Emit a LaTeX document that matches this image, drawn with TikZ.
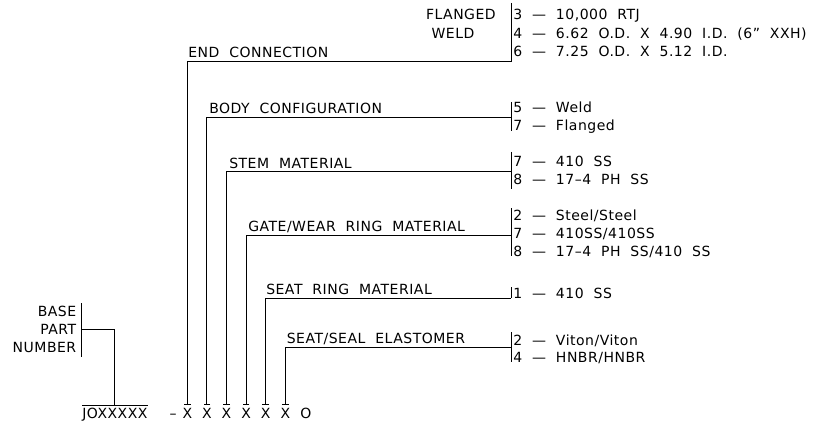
\documentclass[tikz,border=0pt]{standalone}
\usepackage{fontspec}
\newfontfamily\cadfont{DejaVu Sans}[WordSpace=2,LetterSpace=3.6]
\newcommand{\cad}{\cadfont\fontsize{10.5}{12}\selectfont}
\usepackage{tikz}
\usetikzlibrary{arrows.meta}

\begin{document}
\begin{tikzpicture}[x=0.75pt, y={(0pt,-0.75pt)},
  lead/.style={draw=black, line width=0.75pt},
  leader/.style={lead, arrows={Bar[width=5pt]-}},
  field/.style={font=\cad, anchor=base west, inner sep=0pt},
  choice/.style={font=\cad, anchor=base west, inner sep=0pt},
  digit/.style={font=\cad, anchor=base, inner xsep=0pt, inner ysep=2pt}]
\useasboundingbox (0,0) rectangle (822,428);

% part number string
\node[digit, anchor=base west] (pn) at (82,418.5) {JOXXXXX};
\node[digit] (dash) at (173,418.5) {–};
\foreach \i in {1,...,6}{
  \node[digit] (x\i) at ({187.3+19.6*(\i-1)},418.5) {X};
}
\node[digit] (last) at (306,418.5) {O};
\draw[lead] (pn.north west) -- (pn.north east);

% base part number
\node[field, anchor=base east] (base)   at (76.5,316)   {BASE};
\node[field, anchor=base east] (part)   at (76.5,334)   {PART};
\node[field, anchor=base east] (number) at (76.5,352.5) {NUMBER};
\draw[lead] (81,303) -- (81,357);
\coordinate (bk) at (81,329.3);
\draw[lead] (bk) -| (pn.north);

% field leaders
\coordinate (b1) at (511,62);
\coordinate (b2) at (511,118);
\coordinate (b3) at (511,172);
\coordinate (b4) at (511,235);
\coordinate (b5) at (511,298);
\coordinate (b6) at (511,347);
\foreach \i in {1,...,6}{
  \draw[leader] (x\i.north) |- (b\i);
}
\node[field] (endconn)  at (188,58)      {END CONNECTION};
\node[field] (bodycfg)  at (209,113.5)   {BODY CONFIGURATION};
\node[field] (stem)     at (229,168)     {STEM MATERIAL};
\node[field] (gate)     at (248,231)     {GATE/WEAR RING MATERIAL};
\node[field] (seatring) at (266,294.5)   {SEAT RING MATERIAL};
\node[field] (seal)     at (286.5,343.5) {SEAT/SEAL ELASTOMER};

% choice brackets
\draw[lead] (511,3)   -- (b1);
\draw[lead] (511,102) -- (511,131);
\draw[lead] (511,152) -- (511,189);
\draw[lead] (511,208) -- (511,256);
\draw[lead] (511,287) -- (b5);
\draw[lead] (511,332) -- (511,362);

% end connection
\node[field, anchor=base east] (flanged) at (496,20) {FLANGED};
\node[field, anchor=base] (weld) at (453,38.5) {WELD};
\node[choice] (end3) at (513,20)   {3 — 10,000 RTJ};
\node[choice] (end4) at (513,38.5) {4 — 6.62 O.D. X 4.90 I.D. (6” XXH)};
\node[choice] (end6) at (513,57)   {6 — 7.25 O.D. X 5.12 I.D.};
% body configuration
\node[choice] (body5) at (513,112.5) {5 — Weld};
\node[choice] (body7) at (513,130.5) {7 — Flanged};
% stem material
\node[choice] (stem7) at (513,166.5) {7 — 410 SS};
\node[choice] (stem8) at (513,184.5) {8 — 17–4 PH SS};
% gate/wear ring material
\node[choice] (gate2) at (513,220.5) {2 — Steel/Steel};
\node[choice] (gate7) at (513,238.5) {7 — 410SS/410SS};
\node[choice] (gate8) at (513,256.5) {8 — 17–4 PH SS/410 SS};
% seat ring material
\node[choice] (ring1) at (513,298) {1 — 410 SS};
% seat/seal elastomer
\node[choice] (seal2) at (513,345.5) {2 — Viton/Viton};
\node[choice] (seal4) at (513,362.5) {4 — HNBR/HNBR};
\end{tikzpicture}
\end{document}
